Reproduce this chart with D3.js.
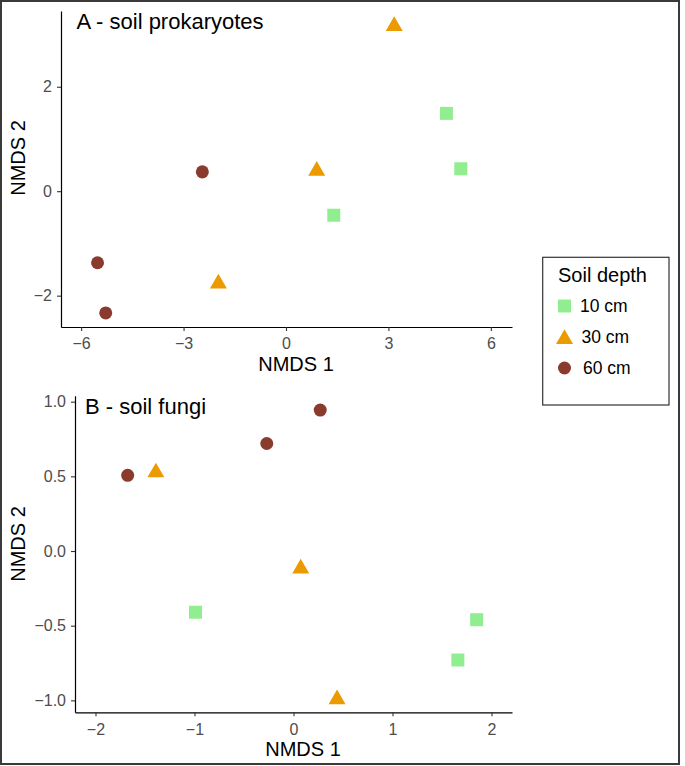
<!DOCTYPE html>
<html>
<head>
<meta charset="utf-8">
<script src="https://cdn.jsdelivr.net/npm/d3@7"></script>
<style>
  html, body { margin: 0; padding: 0; background: #fff; }
  svg { display: block; font-family: "Liberation Sans", Arial, Helvetica, sans-serif; }
</style>
</head>
<body>
<svg id="chart" width="685" height="766"></svg>
<script>
// ---- Data ----
const depths = ["10 cm", "30 cm", "60 cm"];
const depthColors = ["#90EE90", "#EB9A00", "#8B3B2E"];

// Panel A - soil prokaryotes
const prokX10 = [4.70, 5.12, 1.40];
const prokY10 = [1.49, 0.43, -0.46];
const prokX30 = [3.17, 0.90, -1.98];
const prokY30 = [3.16, 0.39, -1.77];
const prokX60 = [-2.45, -5.52, -5.28];
const prokY60 = [0.37, -1.37, -2.33];

// Panel B - soil fungi
const fungiX10 = [-0.99, 1.85, 1.66];
const fungiY10 = [-0.41, -0.46, -0.73];
const fungiX30 = [-1.39, 0.073, 0.44];
const fungiY30 = [0.526, -0.117, -0.993];
const fungiX60 = [0.27, -0.27, -1.675];
const fungiY60 = [0.944, 0.72, 0.507];

const prokXTicks = [-6, -3, 0, 3, 6];
const prokYTicks = [-2, 0, 2];
const fungiXTicks = [-2, -1, 0, 1, 2];
const fungiYTicks = [-1.0, -0.5, 0.0, 0.5, 1.0];

// ---- Drawing ----
const svg = d3.select("#chart");
const symbolTypes = [d3.symbolSquare, d3.symbolTriangle, d3.symbolCircle];
const symbolSizes = [169, 125, 133];
const symbolFor = i => d3.symbol().type(symbolTypes[i]).size(symbolSizes[i]);

svg.append("rect")
  .attr("x", 1).attr("y", 1).attr("width", 678).attr("height", 763)
  .attr("fill", "#fff").attr("stroke", "#3a3a3a").attr("stroke-width", 2);

function series(xs, ys, g) { return xs.map((x, i) => ({x: x, y: ys[i], g: g})); }

function panel(cfg) {
  const x = d3.scaleLinear().domain(cfg.xDomain).range(cfg.xRange);
  const y = d3.scaleLinear().domain(cfg.yDomain).range(cfg.yRange);
  const g = svg.append("g");

  const xAxis = g.append("g")
    .attr("transform", `translate(0,${cfg.yRange[0]})`)
    .call(d3.axisBottom(x).tickValues(cfg.xTicks).tickSize(4).tickPadding(7).tickSizeOuter(0)
      .tickFormat(d3.format(cfg.xFmt)));
  const yAxis = g.append("g")
    .attr("transform", `translate(${cfg.xRange[0]},0)`)
    .call(d3.axisLeft(y).tickValues(cfg.yTicks).tickSize(4).tickPadding(5).tickSizeOuter(0)
      .tickFormat(d3.format(cfg.yFmt)));

  [xAxis, yAxis].forEach(a => {
    a.select(".domain").attr("stroke", "#000").attr("stroke-width", 1.2);
    a.selectAll(".tick line").attr("stroke", "#333").attr("stroke-width", 1.1);
    a.selectAll(".tick text").attr("fill", "#4D4D4D").style("font-size", "16px")
      .style("font-family", "'Liberation Sans', Arial, Helvetica, sans-serif");
  });

  g.append("text")
    .attr("x", cfg.xTitlePos[0]).attr("y", cfg.xTitlePos[1])
    .attr("text-anchor", "middle").style("font-size", "20px").attr("fill", "#000")
    .text("NMDS 1");
  g.append("text")
    .attr("transform", `translate(${cfg.yTitlePos[0]},${cfg.yTitlePos[1]}) rotate(-90)`)
    .attr("text-anchor", "middle").style("font-size", "20px").attr("fill", "#000")
    .text("NMDS 2");
  g.append("text")
    .attr("x", cfg.titlePos[0]).attr("y", cfg.titlePos[1])
    .style("font-size", "22px").attr("fill", "#000")
    .text(cfg.title);

  g.selectAll("path.pt").data(cfg.points).join("path")
    .attr("class", "pt")
    .attr("d", d => symbolFor(d.g)())
    .attr("transform", d => `translate(${x(d.x)},${y(d.y)})`)
    .attr("fill", d => depthColors[d.g]);
}

panel({
  title: "A - soil prokaryotes",
  xDomain: [-6.59, 6.62], xRange: [61, 512],
  yDomain: [-2.6, 3.45], yRange: [327, 11],
  xTicks: prokXTicks, yTicks: prokYTicks, xFmt: "d", yFmt: "d",
  xTitlePos: [296, 370.5], yTitlePos: [25, 158], titlePos: [76.5, 29.3],
  points: [].concat(series(prokX10, prokY10, 0), series(prokX30, prokY30, 1), series(prokX60, prokY60, 2))
});

panel({
  title: "B - soil fungi",
  xDomain: [-2.207, 2.207], xRange: [75, 512],
  yDomain: [-1.08, 1.04], yRange: [712.3, 395.7],
  xTicks: fungiXTicks, yTicks: fungiYTicks, xFmt: "d", yFmt: ".1f",
  xTitlePos: [303, 756], yTitlePos: [25, 544], titlePos: [85, 414.3],
  points: [].concat(series(fungiX10, fungiY10, 0), series(fungiX30, fungiY30, 1), series(fungiX60, fungiY60, 2))
});

// ---- Legend ----
const leg = svg.append("g");
leg.append("rect")
  .attr("x", 542.7).attr("y", 257.3).attr("width", 126.3).attr("height", 147.7)
  .attr("fill", "#fff").attr("stroke", "#333").attr("stroke-width", 1.2);
leg.append("text").attr("x", 558).attr("y", 281.7)
  .style("font-size", "20px").attr("fill", "#000").text("Soil depth");
const ly = d3.scalePoint().domain(depths).range([306, 368]);
depths.forEach((d, i) => {
  leg.append("path")
    .attr("d", symbolFor(i)())
    .attr("transform", `translate(564.5,${ly(d) + (i === 1 ? 2 : 0)})`)
    .attr("fill", depthColors[i]);
  leg.append("text")
    .attr("x", 580 + i * 1.5).attr("y", ly(d) + 6)
    .style("font-size", "17.5px").attr("fill", "#000").text(d);
});
</script>
</body>
</html>
